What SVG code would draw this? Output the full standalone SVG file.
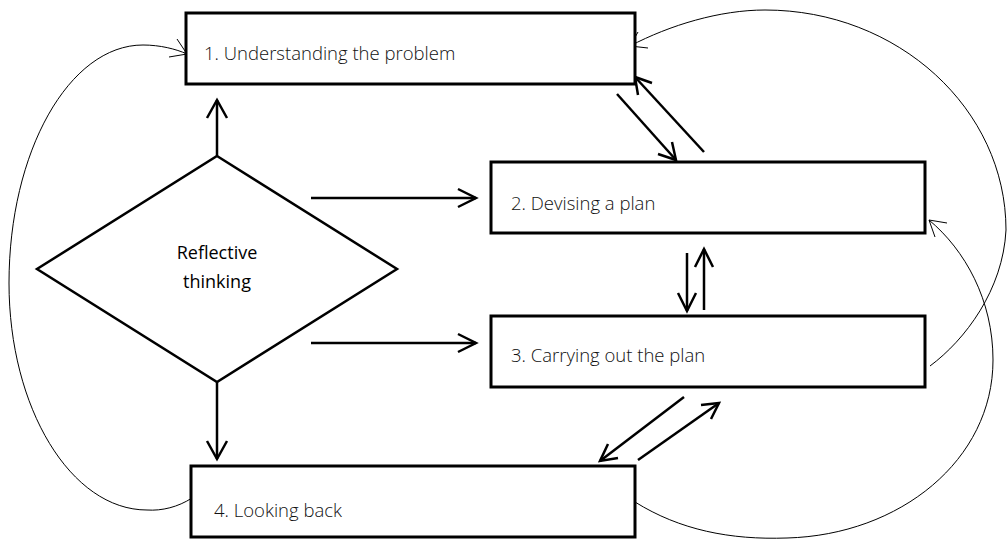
<svg xmlns="http://www.w3.org/2000/svg" width="1008" height="541" viewBox="0 0 1008 541">
<style>
.box{fill:#fff;stroke:#000;stroke-width:3}
.thick{fill:none;stroke:#000;stroke-width:2.5;stroke-linecap:butt}
.thin{fill:none;stroke:#000;stroke-width:1}
.lbl{font-family:"Open Sans","Noto Sans","Liberation Sans",sans-serif;font-size:18.5px;font-weight:300;fill:#111}
.dlbl{font-family:"Open Sans","Noto Sans","Liberation Sans",sans-serif;font-size:18px;fill:#000;text-anchor:middle}
</style>
<rect width="1008" height="541" fill="#fff"/>
<g id="connectors">
  <path class="thin" d="M192,498 C178,507 162,511 147,510 C71,510 9,408 9,283 C9,152 69,45 143,45 C160,45 176,49 187,54"/>
  <polyline class="thin" points="177,39 187,54 169,57"/>
  <path class="thin" d="M930,366 C965,340 1003,290 1006,230 C1006,109 898,10 765,10 C720,10 670,25 630,46"/>
  <polyline class="thin" points="638,32 630,46 648,48"/>
  <path class="thin" d="M635,502 C680,530 730,540 787,538 C900,535 993,460 993,360 C993,300 965,250 929,220"/>
  <polyline class="thin" points="947,223 929,220 935,237"/>
  <line class="thick" x1="217" y1="156" x2="217" y2="100"/>
  <polyline class="thick" points="207,118 217,100 227,118"/>
  <line class="thick" x1="217" y1="382" x2="217" y2="459"/>
  <polyline class="thick" points="207,441 217,459 227,441"/>
  <line class="thick" x1="311" y1="198" x2="476" y2="198"/>
  <polyline class="thick" points="458,189 476,198 458,207"/>
  <line class="thick" x1="311" y1="343" x2="476" y2="343"/>
  <polyline class="thick" points="458,334 476,343 458,352"/>
  <line class="thick" x1="617" y1="94" x2="676" y2="160"/>
  <polyline class="thick" points="658,154 676,160 672,142"/>
  <line class="thick" x1="704" y1="152" x2="635" y2="77"/>
  <polyline class="thick" points="652,83 635,77 638,95"/>
  <line class="thick" x1="687" y1="253" x2="687" y2="311"/>
  <polyline class="thick" points="678,293 687,311 696,293"/>
  <line class="thick" x1="704" y1="310" x2="704" y2="249"/>
  <polyline class="thick" points="695,267 704,249 713,267"/>
  <line class="thick" x1="684" y1="397" x2="600" y2="461"/>
  <polyline class="thick" points="608,444 600,461 618,458"/>
  <line class="thick" x1="638" y1="460" x2="719" y2="403"/>
  <polyline class="thick" points="701,405 719,403 711,419"/>
</g>
<g id="node1">
  <rect class="box" x="186" y="13" width="449" height="71"/>
  <text class="lbl" x="204" y="60">1. Understanding the problem</text>
</g>
<g id="node2">
  <rect class="box" x="491" y="162" width="434" height="71"/>
  <text class="lbl" x="511" y="210">2. Devising a plan</text>
</g>
<g id="node3">
  <rect class="box" x="491" y="316" width="434" height="71"/>
  <text class="lbl" x="511" y="362">3. Carrying out the plan</text>
</g>
<g id="node4">
  <rect class="box" x="191" y="466" width="444" height="71"/>
  <text class="lbl" x="214" y="517">4. Looking back</text>
</g>
<g id="reflective">
  <polygon points="217,156 397,269 217,382 37,269" fill="#fff" stroke="#000" stroke-width="2.5" stroke-linejoin="miter"/>
  <text class="dlbl" x="217" y="259">Reflective</text>
  <text class="dlbl" x="217" y="288">thinking</text>
</g>
</svg>
